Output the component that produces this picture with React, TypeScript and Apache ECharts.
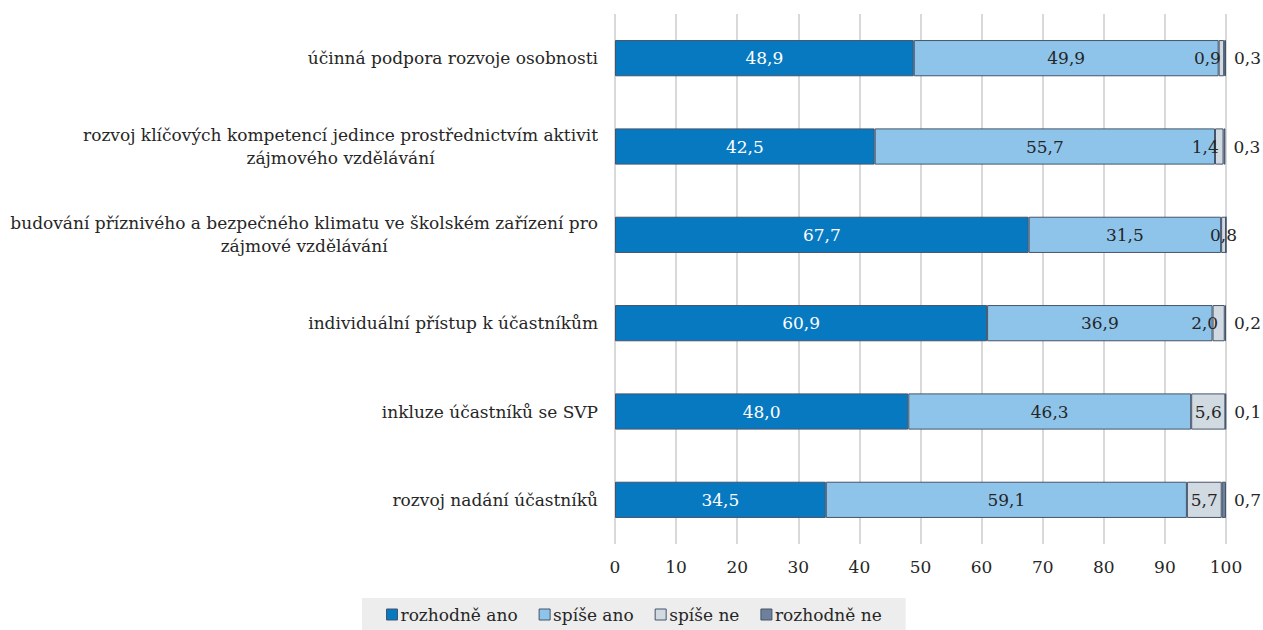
import React, { useEffect, useRef } from "react";
import * as echarts from "echarts";

const categories: string[] = [
  "účinná podpora rozvoje osobnosti",
  "rozvoj klíčových kompetencí jedince prostřednictvím aktivit\nzájmového vzdělávání",
  "budování příznivého a bezpečného klimatu ve školském zařízení pro\nzájmové vzdělávání",
  "individuální přístup k účastníkům",
  "inkluze účastníků se SVP",
  "rozvoj nadání účastníků",
];

const seriesNames: string[] = ["rozhodně ano", "spíše ano", "spíše ne", "rozhodně ne"];

const rozhodneAno: number[] = [48.9, 42.5, 67.7, 60.9, 48.0, 34.5];
const spiseAno: number[] = [49.9, 55.7, 31.5, 36.9, 46.3, 59.1];
const spiseNe: number[] = [0.9, 1.4, 0.8, 2.0, 5.6, 5.7];
const rozhodneNe: number[] = [0.3, 0.3, 0, 0.2, 0.1, 0.7];

const axisTicks: number[] = [0, 10, 20, 30, 40, 50, 60, 70, 80, 90, 100];

const colors = ["#0779C1", "#8EC4EA", "#D1D9E1", "#6F819A"];
const FONT = "DejaVu Serif";
const FS = 17;

const fmt = (v: number) => (v === 0 ? "" : v.toFixed(1).replace(".", ","));

export default function App() {
  const ref = useRef<HTMLDivElement>(null);
  useEffect(() => {
    if (!ref.current) return;
    const chart = echarts.init(ref.current, null, { renderer: "svg" });
    const values = [rozhodneAno, spiseAno, spiseNe, rozhodneNe];
    const series = seriesNames.map((name, i) => ({
      name,
      type: "bar",
      stack: "total",
      barCategoryGap: "59%",
      data: values[i].map((v, j) => {
        // narrow "spíše ne" segments followed by an outside label: keep label clear of it
        if (i === 2 && rozhodneNe[j] > 0 && v < 3) {
          return { value: v, label: { offset: [-14, 0] } };
        }
        return v;
      }),
      itemStyle: { color: colors[i], borderColor: "#44546A", borderWidth: 1 },
      label: {
        show: true,
        position: i === 3 ? "right" : "inside",
        distance: 8,
        color: i === 0 ? "#ffffff" : "#262626",
        fontFamily: FONT,
        fontSize: FS,
        formatter: (p: any) => fmt(p.value),
      },
    }));
    chart.setOption({
      animation: false,
      textStyle: { fontFamily: FONT },
      grid: {
        left: 615,
        right: 37,
        top: 14,
        bottom: 86,
        containLabel: false,
        outerBoundsMode: "none",
      },
      legend: {
        data: seriesNames,
        left: 362,
        top: 598,
        backgroundColor: "#EDEDED",
        padding: [8, 24, 12, 24],
        itemWidth: 11,
        itemHeight: 11,
        itemGap: 21,
        icon: "rect",
        itemStyle: { borderColor: "#44546A", borderWidth: 1 },
        textStyle: { fontFamily: FONT, fontSize: FS, color: "#262626", padding: [0, 0, 0, -2] },
      },
      xAxis: {
        type: "value",
        min: axisTicks[0],
        max: axisTicks[axisTicks.length - 1],
        interval: axisTicks[1] - axisTicks[0],
        axisLine: { show: false },
        axisTick: { show: false },
        splitLine: { show: true, lineStyle: { color: "#D9D9D9", width: 2 } },
        axisLabel: { fontFamily: FONT, fontSize: FS, color: "#262626", margin: 14 },
      },
      yAxis: {
        type: "category",
        inverse: true,
        data: categories,
        axisLine: { show: false },
        axisTick: { show: false },
        axisLabel: {
          margin: 17,
          fontFamily: FONT,
          formatter: (v: string) =>
            v
              .split("\n")
              .map((l) => `{c|${l}}`)
              .join("\n"),
          rich: {
            c: {
              align: "center",
              fontFamily: FONT,
              fontSize: FS,
              lineHeight: 23,
              color: "#262626",
            },
          },
        },
      },
      series,
    });
    return () => chart.dispose();
  }, []);
  return (
    <div
      ref={ref}
      style={{ position: "absolute", left: 0, top: 0, width: 1263, height: 630 }}
    />
  );
}
